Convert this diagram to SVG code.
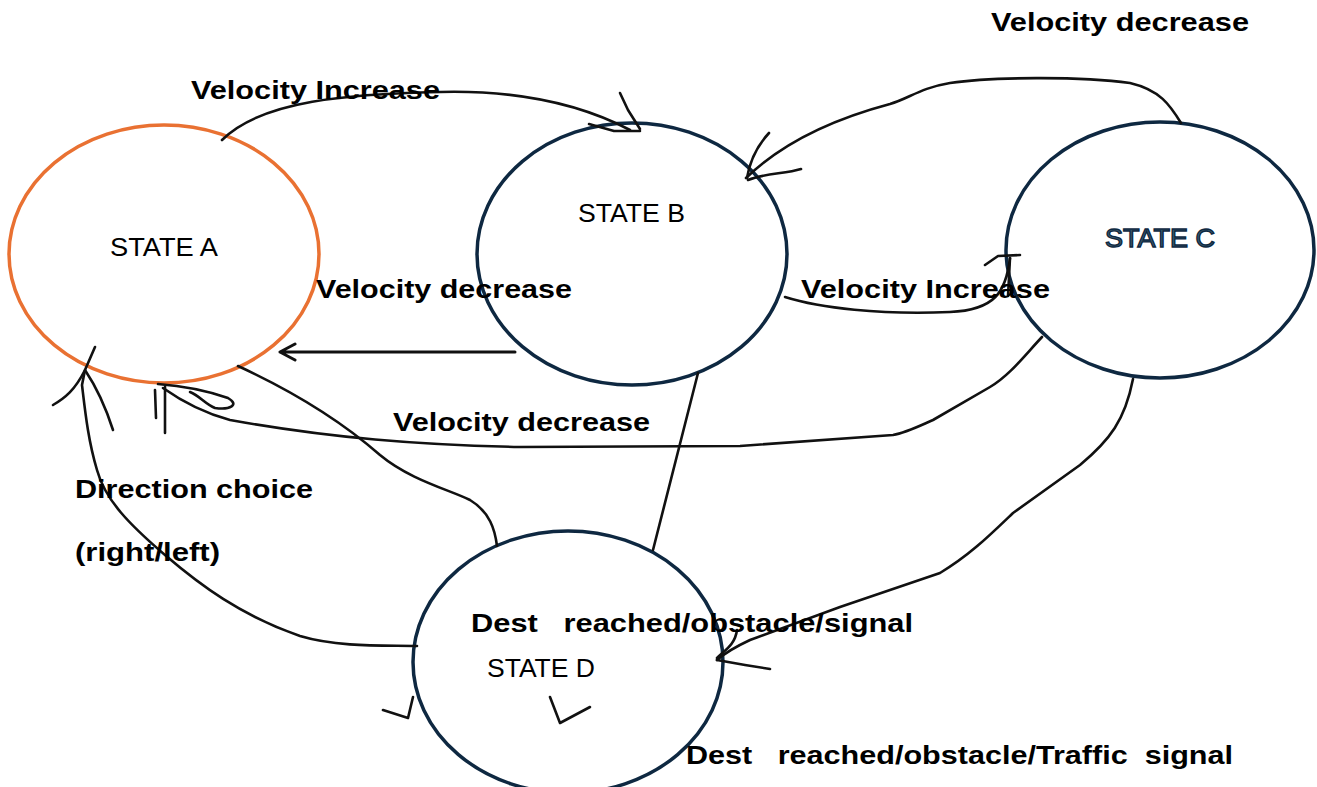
<svg xmlns="http://www.w3.org/2000/svg" width="1317" height="787" viewBox="0 0 1317 787">
<style>
.st{fill:#fff;stroke:#0E2841;stroke-width:3.5}
.sa{fill:#fff;stroke:#E97132;stroke-width:3.5}
.nm{font-family:"Liberation Sans",Arial,sans-serif;font-size:25px;fill:#000}
.lb{font-family:"Liberation Sans",Arial,sans-serif;font-size:26px;font-weight:bold;fill:#000;white-space:pre}
.ln{fill:none;stroke:#111;stroke-width:2.6;stroke-linecap:round;stroke-linejoin:round}
</style>
<rect width="1317" height="787" fill="#fff"/>
<g id="stateA"><ellipse class="sa" cx="164" cy="254" rx="155" ry="129"/><text class="nm" x="110" y="256" textLength="108" lengthAdjust="spacingAndGlyphs">STATE A</text></g>
<g id="stateB"><ellipse class="st" cx="632" cy="254" rx="155" ry="131"/><text class="nm" x="578" y="222" textLength="107" lengthAdjust="spacingAndGlyphs">STATE B</text></g>
<g id="stateC"><ellipse class="st" cx="1160" cy="250" rx="154" ry="128"/><text class="nm" x="1105" y="247" textLength="110" lengthAdjust="spacingAndGlyphs" style="fill:#3d5d70;stroke:#0E2841;stroke-width:1.3">STATE C</text></g>
<g id="stateD"><ellipse class="st" cx="568" cy="662" rx="155" ry="131"/><text class="nm" x="487" y="677" textLength="108" lengthAdjust="spacingAndGlyphs">STATE D</text></g>
<g id="connectors">
<path class="ln" d="M222,140 C262,100 350,94 440,92 C520,90 580,104 630,130"/>
<path class="ln" d="M589,124 L614,131 L640,131 M620,93 L628,110 L640,129"/>
<path class="ln" d="M1181,123 C1170,105 1160,90 1130,83 C1080,76 990,77 950,83 C920,88 910,98 890,104 C830,120 780,145 746,178"/>
<path class="ln" d="M769,133 C758,145 750,160 747,178 M801,169 C785,174 765,173 748,180"/>
<path class="ln" d="M785,297 C820,308 880,315 950,312 C995,310 1006,292 1010,258"/>
<path class="ln" d="M985,265 L998,256 L1020,255 M1010,258 L1008,296"/>
<path class="ln" d="M515,352 L280,352 M295,344 L280,352 L295,360" style="stroke-width:3"/>
<path class="ln" d="M1042,337 C1025,355 1010,375 990,387 L933,420 C915,428 905,433 893,435 L740,446 L520,447 C420,445 330,438 230,420 C200,412 180,400 163,388"/>
<path class="ln" d="M165,387 L165,433 M155,390 L156,418 M158,384 C185,386 205,390 228,398 C240,405 230,410 215,408 C205,404 200,396 190,392"/>
<path class="ln" d="M238,366 C290,390 340,420 380,455 C410,480 450,490 470,500 C490,512 495,530 497,546"/>
<path class="ln" d="M698,373 L653,550"/>
<path class="ln" d="M1133,379 C1125,420 1110,440 1080,465 L1013,513 C990,535 970,555 940,573 L840,607 L750,640 C735,647 725,653 717,660"/>
<path class="ln" d="M717,660 L745,665 L770,669 M737,630 C735,645 725,650 717,658"/>
<path class="ln" d="M417,646 C390,645 340,648 300,636 C240,615 200,585 165,555 C130,525 105,500 97,470 C88,440 85,410 82,385 L85,370 L95,347"/>
<path class="ln" d="M53,405 C65,398 75,390 85,370 M85,370 C95,385 105,405 113,430"/>
<path class="ln" d="M383,710 L408,718 L413,697 M550,697 L560,723 L590,707"/>
</g>
<g id="labels">
<text class="lb" x="191" y="99" textLength="249" lengthAdjust="spacingAndGlyphs">Velocity Increase</text>
<text class="lb" x="991" y="31" textLength="258" lengthAdjust="spacingAndGlyphs">Velocity decrease</text>
<text class="lb" x="316" y="298" textLength="256" lengthAdjust="spacingAndGlyphs">Velocity decrease</text>
<text class="lb" x="801" y="298" textLength="249" lengthAdjust="spacingAndGlyphs">Velocity Increase</text>
<text class="lb" x="393" y="431" textLength="257" lengthAdjust="spacingAndGlyphs">Velocity decrease</text>
<text class="lb" x="75" y="498" textLength="238" lengthAdjust="spacingAndGlyphs">Direction choice</text>
<text class="lb" x="75" y="561" textLength="145" lengthAdjust="spacingAndGlyphs">(right/left)</text>
<text class="lb" x="471" y="632" textLength="442" lengthAdjust="spacingAndGlyphs">Dest   reached/obstacle/signal</text>
<text class="lb" x="686" y="764" textLength="547" lengthAdjust="spacingAndGlyphs">Dest   reached/obstacle/Traffic  signal</text>
</g>
</svg>
